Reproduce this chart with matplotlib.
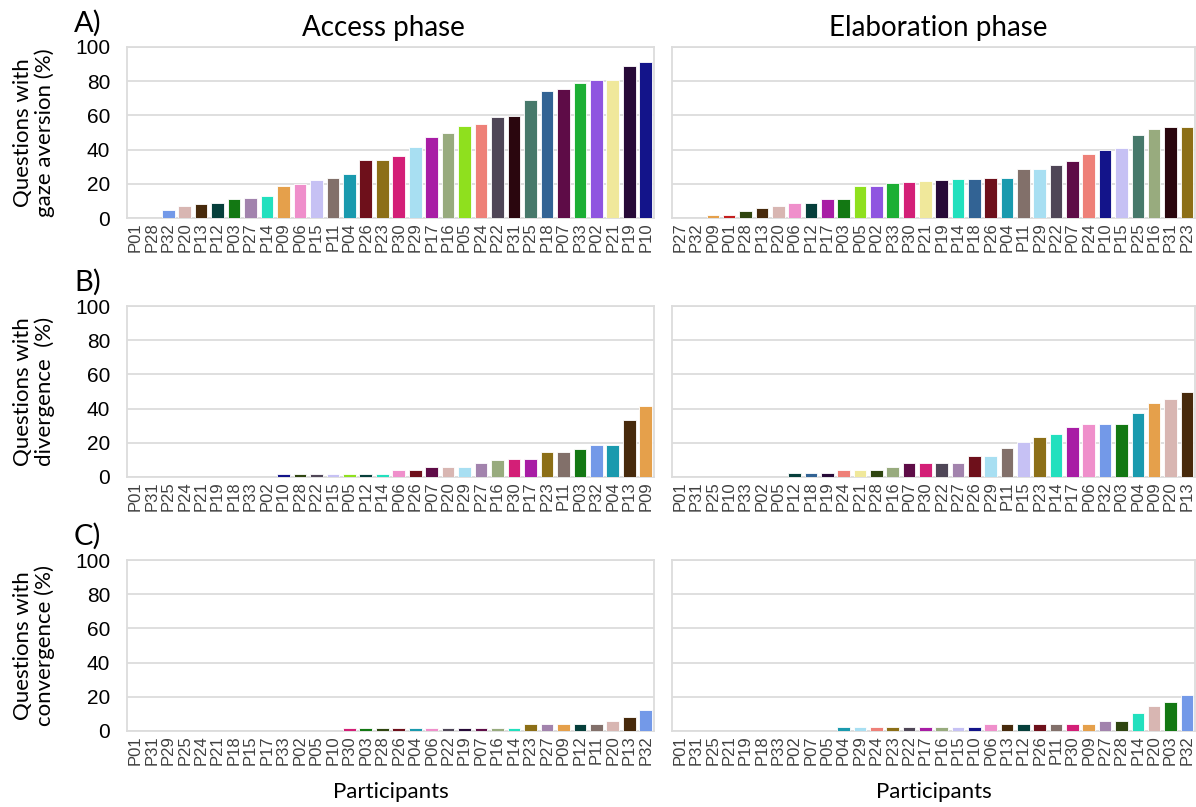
import matplotlib
matplotlib.use('Agg')
import matplotlib.pyplot as plt

# participant colours (same participant -> same colour in every panel)
colors = {
    'P01': '#c41e1e', 'P02': '#8f55e0', 'P03': '#137813', 'P04': '#1a9aae',
    'P05': '#8fe01e', 'P06': '#ef8fcb', 'P07': '#5e0c47', 'P09': '#e5a04b',
    'P10': '#13148a', 'P11': '#82706a', 'P12': '#063f3b', 'P13': '#472a0c',
    'P14': '#22e0be', 'P15': '#c6c1f4', 'P16': '#98ab7e', 'P17': '#a81da5',
    'P18': '#326394', 'P19': '#270a38', 'P20': '#d8b6b2', 'P21': '#f0e89b',
    'P22': '#4f4657', 'P23': '#8c6f17', 'P24': '#ee8078', 'P25': '#47796b',
    'P26': '#6e101b', 'P27': '#a283ad', 'P28': '#2f4510', 'P29': '#a8dff2',
    'P30': '#d31f77', 'P31': '#2a060e', 'P32': '#7399e8', 'P33': '#1caf34',
}

# A) gaze aversion ------------------------------------------------------------
gaze_access_ids = ['P01', 'P28', 'P32', 'P20', 'P13', 'P12', 'P03', 'P27',
                   'P14', 'P09', 'P06', 'P15', 'P11', 'P04', 'P26', 'P23',
                   'P30', 'P29', 'P17', 'P16', 'P05', 'P24', 'P22', 'P31',
                   'P25', 'P18', 'P07', 'P33', 'P02', 'P21', 'P19', 'P10']
gaze_access = [0, 0, 4.7, 7.2, 8.2, 8.8, 11.1, 11.9, 12.7, 18.5, 19.9, 22.4,
               23.6, 25.7, 33.9, 33.9, 36.3, 41.5, 47.2, 49.7, 53.8, 54.8,
               59.3, 59.8, 68.8, 74.3, 75.4, 79.1, 80.7, 80.7, 88.7, 91.2]

gaze_elab_ids = ['P27', 'P32', 'P09', 'P01', 'P28', 'P13', 'P20', 'P06',
                 'P12', 'P17', 'P03', 'P05', 'P02', 'P33', 'P30', 'P21',
                 'P19', 'P14', 'P18', 'P26', 'P04', 'P11', 'P29', 'P22',
                 'P07', 'P24', 'P10', 'P15', 'P25', 'P16', 'P31', 'P23']
gaze_elab = [0, 0, 1.8, 1.9, 4.1, 5.7, 7.2, 8.8, 8.8, 11.1, 11.1, 18.9, 18.9,
             20.3, 21.1, 21.6, 22.2, 22.8, 22.8, 23.2, 23.6, 28.8, 28.8, 31.0,
             33.1, 37.2, 39.8, 40.9, 48.3, 51.9, 53.0, 53.4]

# B) divergence ----------------------------------------------------------------
div_access_ids = ['P01', 'P31', 'P25', 'P24', 'P21', 'P19', 'P18', 'P33',
                  'P02', 'P10', 'P28', 'P22', 'P15', 'P05', 'P12', 'P14',
                  'P06', 'P26', 'P07', 'P20', 'P29', 'P27', 'P16', 'P30',
                  'P17', 'P23', 'P11', 'P03', 'P32', 'P04', 'P13', 'P09']
div_access = [0, 0, 0, 0, 0, 0, 0, 0, 0, 1.8, 1.8, 1.8, 1.8, 1.8, 1.8, 1.9,
              3.9, 4.1, 6.0, 5.8, 5.8, 8.2, 10.1, 10.3, 10.3, 14.4, 14.4,
              16.5, 18.5, 18.5, 33.1, 41.6]

div_elab_ids = ['P01', 'P31', 'P25', 'P10', 'P33', 'P02', 'P05', 'P12',
                'P18', 'P19', 'P24', 'P21', 'P28', 'P16', 'P07', 'P30',
                'P22', 'P27', 'P26', 'P29', 'P11', 'P15', 'P23', 'P14',
                'P17', 'P06', 'P32', 'P03', 'P04', 'P09', 'P20', 'P13']
div_elab = [0, 0, 0, 0, 0, 0, 0, 2.1, 2.1, 2.1, 4.3, 4.3, 4.3, 6.0, 8.3, 8.3,
            8.3, 8.3, 12.4, 12.4, 16.7, 20.6, 23.1, 24.9, 29.3, 31.1, 31.1,
            31.1, 37.3, 43.5, 45.8, 49.7]

# C) convergence ---------------------------------------------------------------
conv_access_ids = ['P01', 'P31', 'P29', 'P25', 'P24', 'P21', 'P18', 'P15',
                   'P17', 'P33', 'P02', 'P05', 'P10', 'P30', 'P03', 'P28',
                   'P26', 'P04', 'P06', 'P22', 'P19', 'P07', 'P16', 'P14',
                   'P23', 'P27', 'P09', 'P12', 'P11', 'P20', 'P13', 'P32']
conv_access = [0, 0, 0, 0, 0, 0, 0, 0, 0, 0, 0, 0, 0, 1.7, 1.7, 1.7, 1.7, 1.7,
               1.7, 1.7, 1.7, 1.7, 1.7, 1.7, 4.1, 4.1, 4.1, 4.1, 4.1, 5.9,
               8.4, 12.1]

conv_elab_ids = ['P01', 'P31', 'P25', 'P21', 'P19', 'P18', 'P33', 'P02',
                 'P07', 'P05', 'P04', 'P29', 'P24', 'P23', 'P22', 'P17',
                 'P16', 'P15', 'P10', 'P06', 'P13', 'P12', 'P26', 'P11',
                 'P30', 'P09', 'P27', 'P28', 'P14', 'P20', 'P03', 'P32']
conv_elab = [0, 0, 0, 0, 0, 0, 0, 0, 0, 0, 2.1, 2.1, 2.1, 2.1, 2.1, 2.1, 2.1,
             2.1, 2.3, 4.3, 4.3, 4.3, 4.3, 4.3, 4.3, 4.3, 6.1, 6.1, 10.5,
             14.6, 16.8, 20.9]

rows = [
    ('A)', 'Questions with\ngaze aversion (%)',
     (gaze_access_ids, gaze_access), (gaze_elab_ids, gaze_elab)),
    ('B)', 'Questions with\ndivergence  (%)',
     (div_access_ids, div_access), (div_elab_ids, div_elab)),
    ('C)', 'Questions with\nconvergence (%)',
     (conv_access_ids, conv_access), (conv_elab_ids, conv_elab)),
]

W, H = 1196, 807
fig = plt.figure(figsize=(W / 100, H / 100), dpi=100)

label_font = 'Lato'
tick_font = 'Liberation Sans'
grid_c = '#dcdcdc'

# axes boxes in pixels: (left, right) per column, (top, bottom) per row
cols_px = [(127, 654), (672, 1195)]
rows_px = [(47, 218), (306, 477), (560, 731)]


def px_axes(x0, x1, y0, y1):
    return fig.add_axes([x0 / W, 1 - y1 / H, (x1 - x0) / W, (y1 - y0) / H])


for r, (letter, ylab, left, right) in enumerate(rows):
    y0, y1 = rows_px[r]
    for c, (ids, vals) in enumerate([left, right]):
        ax = px_axes(cols_px[c][0], cols_px[c][1], y0, y1)
        xs = range(len(ids))
        ax.bar(xs, vals, width=0.77, color=[colors[p] for p in ids],
               edgecolor='white', linewidth=0.6, zorder=3)
        ax.set_xlim(-0.5, len(ids) - 0.5)
        ax.set_ylim(0, 100)
        ax.set_yticks(range(0, 101, 20))
        ax.yaxis.grid(True, color=grid_c, linewidth=1.3, zorder=0)
        ax.set_xticks(list(xs))
        ax.set_xticklabels(ids, rotation=90, fontsize=12,
                           family=tick_font, color='#404040')
        for s in ax.spines.values():
            s.set_color(grid_c)
            s.set_linewidth(1.3)
        ax.tick_params(length=0, pad=3)
        if c == 0:
            for t in ax.get_yticklabels():
                t.set_fontsize(15)
                t.set_family(tick_font)
                t.set_color('black')
            ax.tick_params(axis='y', pad=12)
        else:
            ax.set_yticklabels([])
        if r == 2:
            ax.set_xlabel('Participants', family=label_font, fontsize=16,
                          labelpad=12)

    # row letter and y label
    fig.text(74 / W, 1 - (y0 - 24) / H, letter, family=label_font,
             fontsize=21, ha='left', va='center')
    fig.text(34 / W, 1 - (y0 + y1) / 2 / H, ylab, family=label_font,
             fontsize=16, rotation=90, ha='center', va='center',
             multialignment='center', linespacing=1.1)

fig.text(383 / W, 1 - 28 / H, 'Access phase', family=label_font,
         fontsize=20, ha='center', va='center')
fig.text(938 / W, 1 - 28 / H, 'Elaboration phase', family=label_font,
         fontsize=20, ha='center', va='center')

fig.savefig('out.png', dpi=100)
